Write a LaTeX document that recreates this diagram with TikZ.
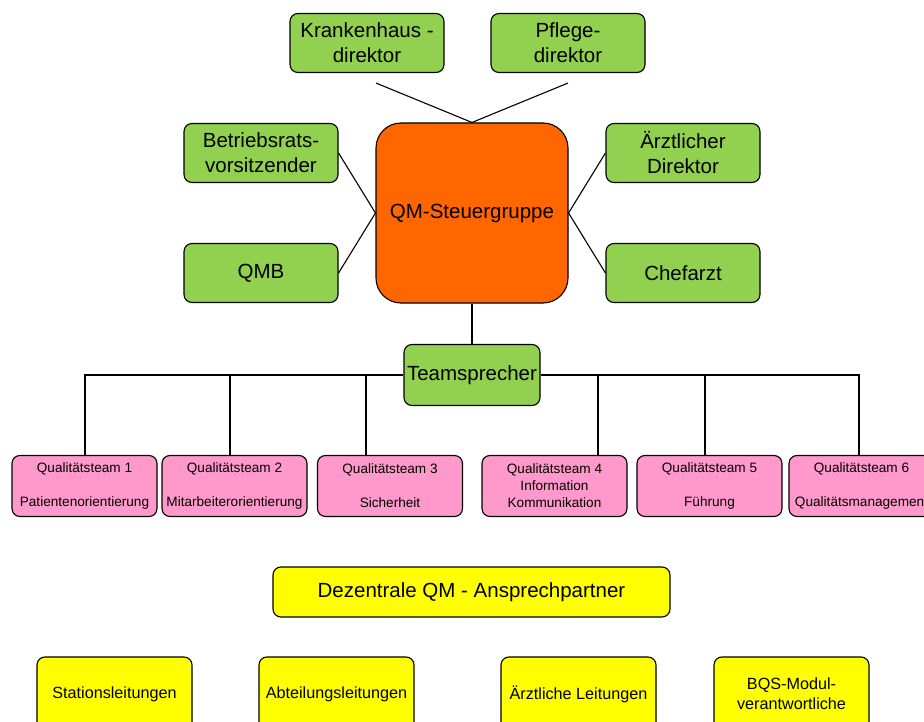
\documentclass[tikz,border=0pt]{standalone}
\usepackage{fontspec}
\setmainfont{Liberation Sans}
\usetikzlibrary{calc}
\definecolor{gruen}{RGB}{146,208,80}
\definecolor{orange}{RGB}{255,102,0}
\definecolor{rosa}{RGB}{255,153,204}
\definecolor{gelb}{RGB}{255,255,0}
\tikzset{
  box/.style={draw,line width=1.1pt,inner sep=0pt,align=center,rounded corners=8pt},
  gruenbox/.style={box,fill=gruen,minimum width=154pt,minimum height=59pt,font=\fontsize{20.5}{25}\selectfont},
  teambox/.style={box,fill=rosa,minimum width=145pt,minimum height=61pt,font=\fontsize{13.6}{17}\selectfont},
  gelbbox/.style={box,fill=gelb,minimum width=155pt,minimum height=74pt,font=\fontsize{16.2}{20}\selectfont},
  linie/.style={line width=1.1pt}
}
\begin{document}
\begin{tikzpicture}[x=1pt,y=-1pt]
\useasboundingbox (0,0) rectangle (924,722);
\node[gruenbox] (kh)at(367,43){Krankenhaus -\\direktor};
\node[gruenbox] (pf)at(568,43){Pflege-\\direktor};
\node[gruenbox] (br)at(261,153){Betriebsrats-\\vorsitzender};
\node[gruenbox] (qmb)at(261,273){QMB};
\node[gruenbox] (az)at(683,153){Ärztlicher\\Direktor};
\node[gruenbox] (cf)at(683,273){Chefarzt};
\node[box,fill=orange,rounded corners=25pt,minimum width=192pt,minimum height=180pt,font=\fontsize{20.5}{25}\selectfont] (qm)at(472,213){QM-Steuergruppe};
\node[gruenbox,minimum width=136pt,minimum height=61pt] (ts)at(472,375){Teamsprecher};
\node[teambox] (q1)at(84.5,486){Qualitätsteam 1\\\mbox{}\\Patientenorientierung};
\node[teambox] (q2)at(234.5,486){Qualitätsteam 2\\\mbox{}\\Mitarbeiterorientierung};
\node[teambox] (q3)at(390,486){Qualitätsteam 3\\\mbox{}\\Sicherheit};
\node[teambox] (q4)at(554.5,486){Qualitätsteam 4\\Information\\Kommunikation};
\node[teambox] (q5)at(709.5,486){Qualitätsteam 5\\\mbox{}\\Führung};
\node[teambox] (q6)at(861.5,486){Qualitätsteam 6\\\mbox{}\\Qualitätsmanagement};
\node[gelbbox,minimum width=397pt,minimum height=50pt,font=\fontsize{20.5}{25}\selectfont] (dz)at(471.5,592){Dezentrale QM - Ansprechpartner};
\node[gelbbox] (s1)at(114.5,694){Stationsleitungen};
\node[gelbbox] (s2)at(336.5,694){Abteilungsleitungen};
\node[gelbbox] (s3)at(578.5,694){Ärztliche Leitungen};
\node[gelbbox] (s4)at(791.5,694){BQS-Modul-\\verantwortliche};
\coordinate (khfuss) at ($(kh.south)+(9,10)$);
\coordinate (pffuss) at ($(pf.south)+(0,10)$);
\draw[linie] (khfuss) to (qm.north);
\draw[linie] (pffuss) to (qm.north);
\draw[linie] (br.east) to (qm.west);
\draw[linie] (qmb.east) to (qm.west);
\draw[linie] (az.west) to (qm.east);
\draw[linie] (cf.west) to (qm.east);
\draw[linie] (qm.south) to (ts.north);
\draw[linie] (85,374 |- q1.north) |- (ts.west);
\draw[linie] (859,374 |- q6.north) |- (ts.east);
\foreach \x/\q in {230/q2,366/q3,598/q4,705/q5}
  \draw[linie] (\x,374) to (\x,374 |- \q.north);
\end{tikzpicture}
\end{document}
